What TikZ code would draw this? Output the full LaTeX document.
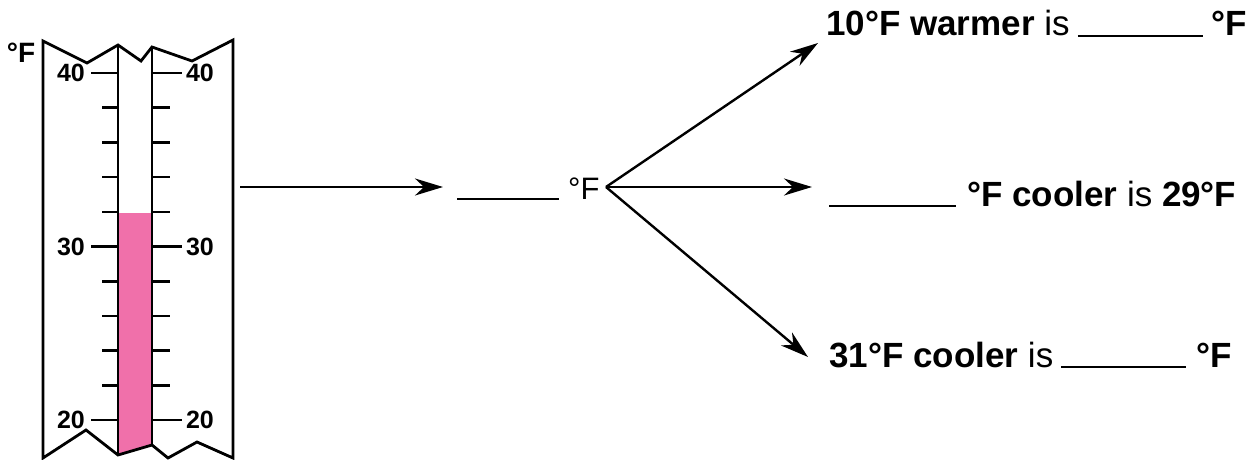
\documentclass[tikz,border=0pt]{standalone}
\usepackage{fontspec}
\setmainfont{Liberation Sans}
\usetikzlibrary{arrows.meta,positioning}
\definecolor{mercury}{RGB}{240,112,170}
\newcommand\answerline[1]{\rule[-1pt]{#1}{2.2pt}}

\begin{document}
\begin{tikzpicture}[x=1pt,y=-1pt,
	tube/.style={line width=2.8pt,line join=miter},
	tick/.style={line width=2.6pt},
	scalelabel/.style={inner sep=0pt,font=\fontsize{25}{25}\selectfont\bfseries},
	arrowline/.style={line width=2.4pt,-{Stealth[length=28pt,width=17pt,inset=9pt]}},
	answer/.style={anchor=base west,inner sep=0pt,font=\fontsize{35}{35}\selectfont}
	]
	\useasboundingbox (0,0) rectangle (1259,460);
	
	% the mercury
	\fill[mercury] (118,213) -- (152,213) -- (152,445) -- (118,455) -- cycle;
	
	% the case of the thermometer
	\draw[tube] (43,41) -- (43,458) -- (86,430) -- (118,455) -- (152,445) -- (168,458)
		-- (197,442) -- (233,458) -- (233,40) -- (192,61) -- (152,47) -- (141,61)
		-- (118,45) -- (87,63) -- cycle;
	\draw[tube] (118,45) -- (118,455);
	\draw[tube] (152,47) -- (152,445);
	
	% the ticks
	\foreach \t in {0,...,10}
		\draw[tick] (102,73+\t*34.7) -- (118,73+\t*34.7) (152,73+\t*34.7) -- (170,73+\t*34.7);
	\foreach \val/\t in {40/0,30/5,20/10} {
		\draw[tick] (91,73+\t*34.7) -- (118,73+\t*34.7) (152,73+\t*34.7) -- (182,73+\t*34.7);
		\node[scalelabel] (l\val) at (71,73+\t*34.7) {\val};
		\node[scalelabel] (r\val) at (200,73+\t*34.7) {\val};
	}
	\node[inner sep=0pt,font=\fontsize{28}{28}\selectfont\bfseries] (unit) at (21,53) {°F};
	
	% the reading
	\coordinate (tstart) at (240,187);
	\node[answer,font=\fontsize{31}{31}\selectfont] (q) at (457,199) {\answerline{102pt}\hspace{9pt}°F};
	\coordinate (fan) at (606,187);
	
	% the three questions
	\node[answer] (warm) at (826,36) {{\bfseries 10°F warmer} is\hspace{8pt}\answerline{125pt}\hspace{9pt}{\bfseries °F}};
	\node[answer] (cool) at (829,206) {\answerline{127pt}\hspace{11pt}{\bfseries °F cooler} is {\bfseries 29°F}};
	\node[answer] (colder) at (829,367) {{\bfseries 31°F cooler} is\hspace{8pt}\answerline{125pt}\hspace{10pt}{\bfseries °F}};
	\coordinate (twarm) at (818,43);
	\coordinate (tcool) at (812,187);
	\coordinate (tcolder) at (808,357);
	
	% the arrows
	\draw[arrowline] (tstart) -- (tstart -| q.west) [shorten >=14pt];
	\draw[arrowline] (fan) -- (twarm);
	\draw[arrowline] (fan) -- (tcool);
	\draw[arrowline] (fan) -- (tcolder);
\end{tikzpicture}
\end{document}
